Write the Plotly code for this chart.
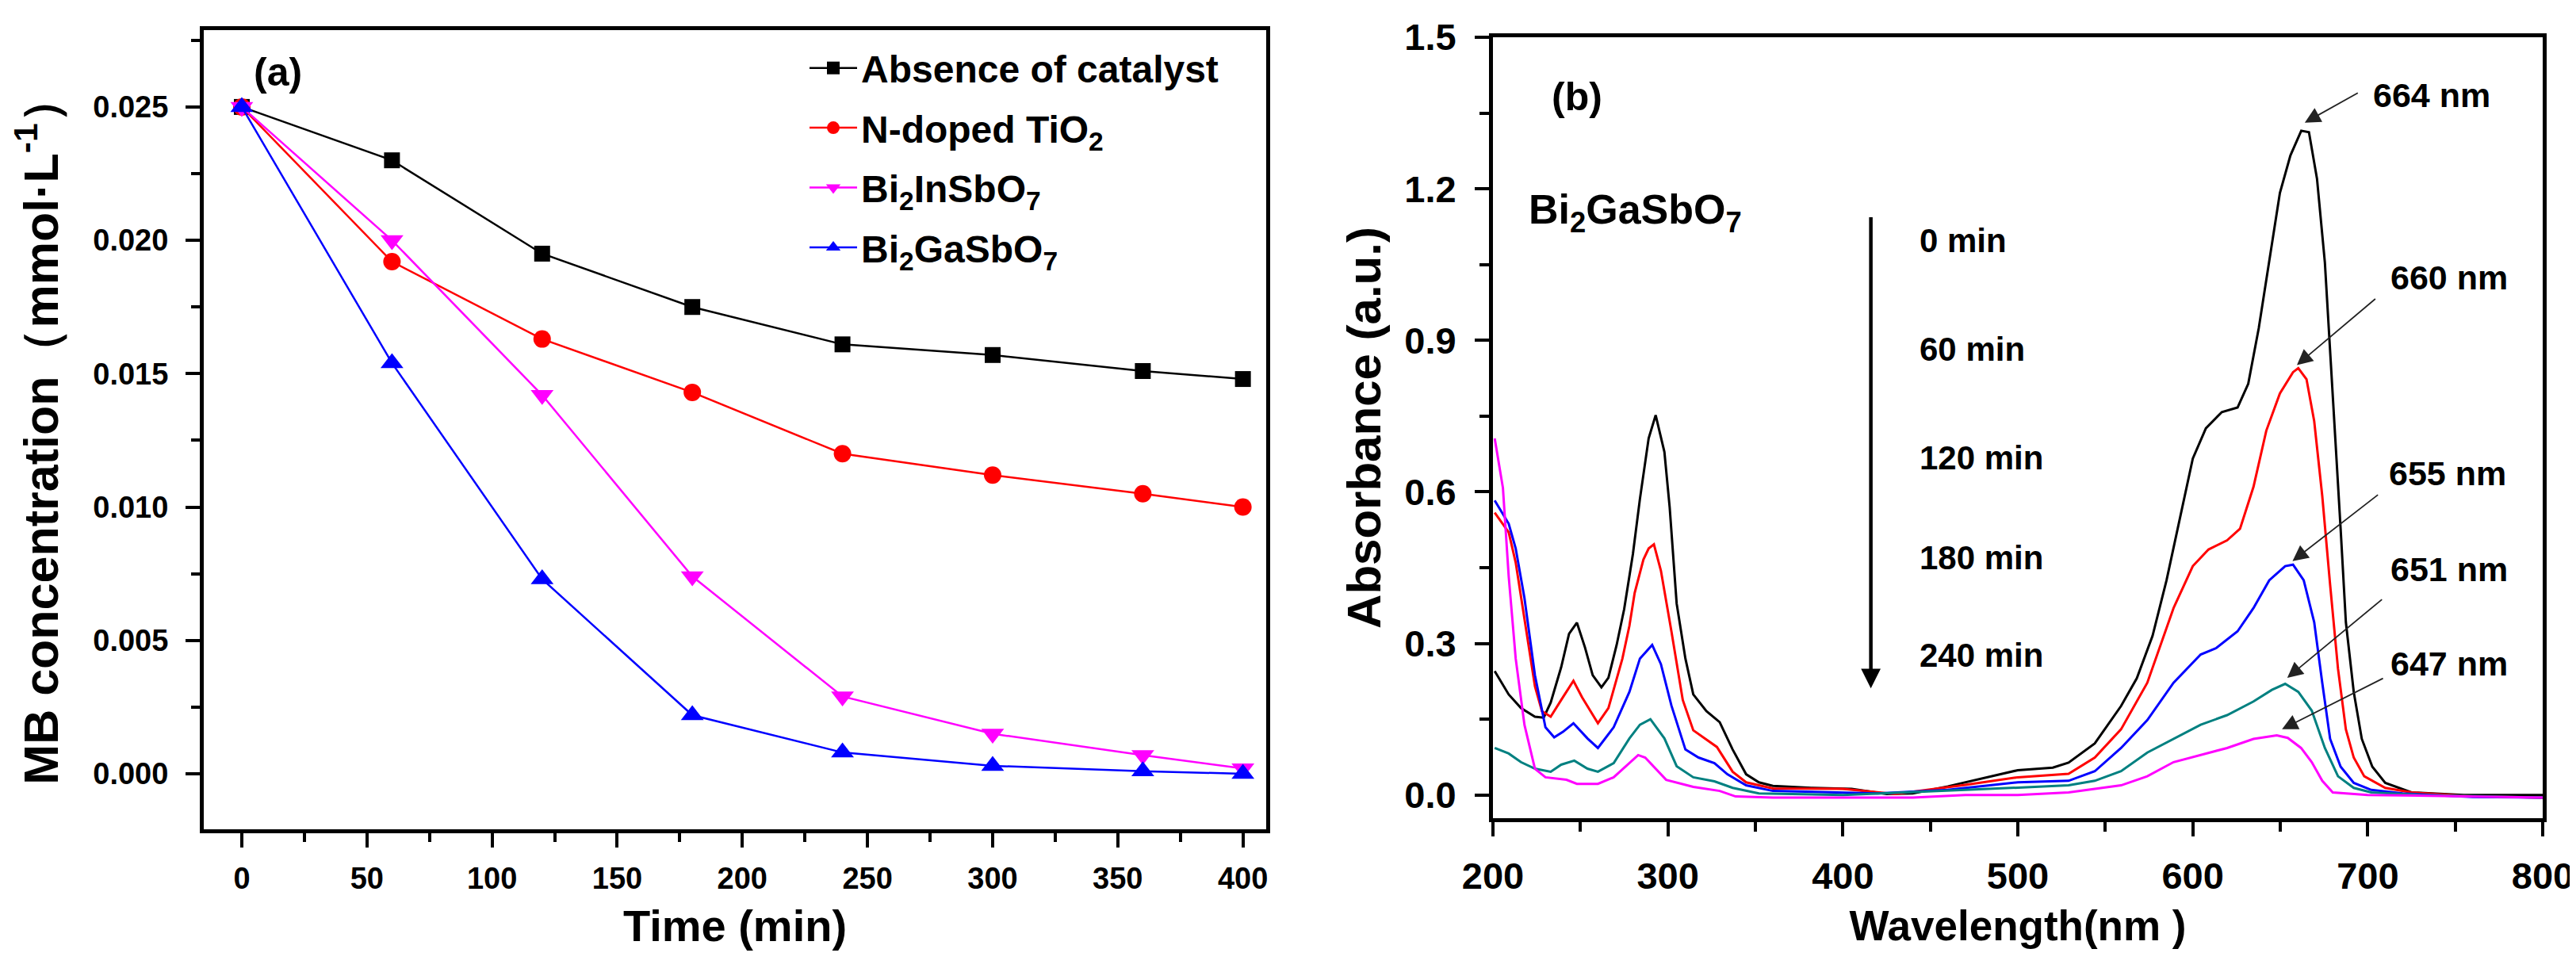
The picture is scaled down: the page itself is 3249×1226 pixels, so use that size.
import plotly.graph_objects as go

# ---------------- Panel (a) data ----------------
time_min = [0, 60, 120, 180, 240, 300, 360, 400]
absence = [0.0250, 0.0230, 0.0195, 0.0175, 0.0161, 0.0157, 0.0151, 0.0148]
n_tio2 = [0.0250, 0.0192, 0.0163, 0.0143, 0.0120, 0.0112, 0.0105, 0.0100]
bi2insbo7 = [0.0250, 0.0200, 0.0142, 0.0074, 0.0029, 0.0015, 0.0007, 0.0002]
bi2gasbo7 = [0.0250, 0.0154, 0.0073, 0.0022, 0.0008, 0.0003, 0.0001, -0.0000]

series_a_names = ["Absence of catalyst", "N-doped TiO<sub>2</sub>",
                  "Bi<sub>2</sub>InSbO<sub>7</sub>", "Bi<sub>2</sub>GaSbO<sub>7</sub>"]

# ---------------- Panel (b) data ----------------
wl_0 = [201, 209, 216, 224, 229, 233, 239, 243.5, 248, 252.6, 257, 262, 266, 270.7, 275, 280, 284, 289,
        293, 298, 301, 305, 310, 314.5, 322, 329.6, 337, 344.7, 352, 360, 382, 405, 425, 440, 460, 480,
        500, 520, 529, 544, 559, 568, 577, 585, 592, 600, 607.5, 616.6, 625.6, 631.7, 637.7, 643.7,
        649.8, 655.8, 662, 666.4, 671, 675.5, 678.5, 681.5, 684.5, 687.5, 692, 696.6, 702.6, 710, 725,
        755, 800]
abs_0 = [0.245, 0.199, 0.172, 0.155, 0.153, 0.183, 0.253, 0.319, 0.341, 0.292, 0.237, 0.213, 0.232,
         0.297, 0.368, 0.477, 0.586, 0.706, 0.752, 0.679, 0.570, 0.379, 0.270, 0.199, 0.166, 0.144,
         0.090, 0.041, 0.025, 0.018, 0.014, 0.012, 0.002, 0.003, 0.017, 0.033, 0.049, 0.054, 0.064,
         0.102, 0.176, 0.231, 0.315, 0.425, 0.536, 0.666, 0.726, 0.758, 0.767, 0.814, 0.924, 1.054,
         1.192, 1.266, 1.315, 1.312, 1.220, 1.054, 0.887, 0.703, 0.527, 0.342, 0.204, 0.111, 0.056,
         0.024, 0.005, 0.000, 0.000]

wl_60 = [201, 209, 213, 218, 224, 228, 233, 239, 246, 251, 260, 266, 274, 278, 281, 286, 289, 292, 296,
         302, 308.5, 314.5, 322, 328, 337, 344.7, 360, 400, 430, 470, 500, 520, 529, 544, 559, 574, 589,
         600, 609, 619.6, 627, 634.7, 642, 649.8, 657.3, 660.3, 665, 669.4, 674, 678.5, 683, 687.5,
         692, 698, 710, 725, 760, 800]
abs_60 = [0.559, 0.520, 0.460, 0.346, 0.215, 0.166, 0.155, 0.188, 0.226, 0.193, 0.142, 0.172, 0.270,
          0.335, 0.400, 0.466, 0.488, 0.496, 0.444, 0.324, 0.188, 0.128, 0.109, 0.095, 0.046, 0.025,
          0.013, 0.012, 0.002, 0.020, 0.035, 0.040, 0.042, 0.074, 0.130, 0.222, 0.370, 0.453, 0.486,
          0.504, 0.527, 0.610, 0.721, 0.795, 0.837, 0.845, 0.823, 0.740, 0.592, 0.416, 0.250, 0.130,
          0.074, 0.037, 0.014, 0.005, -0.003, -0.005]

wl_120 = [201, 209, 213, 218, 224, 230, 235, 240, 246, 254, 260, 269, 278, 284, 291, 296, 302, 310,
          317.5, 326.6, 334, 344.7, 360, 420, 460, 500, 529, 544, 559, 574, 589, 604.5, 613.5, 625.6,
          634.7, 643.7, 652.8, 657.3, 663.4, 669.4, 674, 678.5, 684.5, 692, 702, 720, 760, 800]
abs_120 = [0.583, 0.537, 0.488, 0.390, 0.237, 0.134, 0.114, 0.125, 0.142, 0.112, 0.093, 0.134, 0.204,
           0.270, 0.297, 0.259, 0.177, 0.090, 0.074, 0.063, 0.041, 0.019, 0.008, 0.003, 0.010, 0.025,
           0.028, 0.047, 0.093, 0.148, 0.222, 0.278, 0.291, 0.324, 0.370, 0.425, 0.453, 0.456, 0.425,
           0.342, 0.222, 0.111, 0.056, 0.024, 0.010, 0.003, -0.004, -0.005]

wl_180 = [201, 209, 216, 224, 233, 239, 246.5, 254, 260, 269, 278, 284, 290, 298, 305, 314.5, 326.6,
          337, 352, 400, 470, 500, 529, 544, 559, 574, 589, 604.5, 619.6, 634.7, 645.2, 652.8, 660.3,
          668, 675.5, 683, 692, 702, 730, 800]
abs_180 = [0.093, 0.082, 0.065, 0.052, 0.046, 0.060, 0.068, 0.052, 0.046, 0.063, 0.112, 0.139, 0.150,
           0.112, 0.057, 0.035, 0.027, 0.014, 0.003, 0.000, 0.010, 0.015, 0.019, 0.028, 0.047, 0.084,
           0.111, 0.139, 0.158, 0.185, 0.208, 0.220, 0.204, 0.167, 0.093, 0.037, 0.014, 0.005, 0.000,
           -0.005]

wl_240 = [201, 205.7, 209, 213, 218, 224, 230, 242, 248, 260, 269, 278, 283, 287, 293, 299, 314.5,
          329.6, 338.7, 360, 440, 470, 500, 529, 559, 574, 589, 604.5, 619.6, 634.7, 643.7, 648, 654.3,
          661.9, 668, 674, 680, 700, 800]
abs_240 = [0.706, 0.608, 0.433, 0.270, 0.139, 0.052, 0.035, 0.030, 0.022, 0.022, 0.035, 0.063, 0.079,
           0.074, 0.052, 0.030, 0.016, 0.008, -0.003, -0.005, -0.005, 0.000, 0.000, 0.005, 0.019, 0.037,
           0.065, 0.079, 0.093, 0.111, 0.116, 0.118, 0.113, 0.093, 0.065, 0.028, 0.005, 0.000, -0.005]

time_labels = ["0 min", "60 min", "120 min", "180 min", "240 min"]
time_label_y = [1.097, 0.883, 0.668, 0.469, 0.276]
peak_labels = ["664 nm", "660 nm", "655 nm", "651 nm", "647 nm"]
peak_label_xy = [(702, 1.386), (712, 1.025), (711, 0.637), (712, 0.447), (712, 0.260)]
peak_arrow_tail = [(695, 1.391), (705, 0.984), (706.5, 0.596), (708.8, 0.389), (709.4, 0.232)]
peak_arrow_head = [(664, 1.331), (659.5, 0.851), (657, 0.463), (654, 0.232), (651, 0.130)]

FONT = "Liberation Sans, Arial, Helvetica, sans-serif"
W, H = 3249, 1226

fig = go.Figure()

# ---------------- Panel (a) traces ----------------
series_a = [absence, n_tio2, bi2insbo7, bi2gasbo7]
colors_a = ["#000000", "#FF0000", "#FF00FF", "#0000FF"]
symbols_a = ["square", "circle", "triangle-down", "triangle-up"]
sizes_a = [20, 22, 25, 25]
for name, ys, c, s, sz in zip(series_a_names, series_a, colors_a, symbols_a, sizes_a):
    fig.add_trace(go.Scatter(
        x=time_min, y=ys, mode="lines+markers", name="<b>" + name + "</b>",
        line=dict(color=c, width=2.5),
        marker=dict(symbol=s, size=sz, color=c, line=dict(width=0)),
        xaxis="x", yaxis="y", legendgroup=name,
    ))

# ---------------- Panel (b) traces ----------------
spectra = [(wl_0, abs_0, "#000000", "0 min"), (wl_60, abs_60, "#FF0000", "60 min"),
           (wl_120, abs_120, "#0000FF", "120 min"), (wl_180, abs_180, "#008080", "180 min"),
           (wl_240, abs_240, "#FF00FF", "240 min")]
for wl, ab, c, nm in spectra:
    fig.add_trace(go.Scatter(
        x=wl, y=ab, mode="lines", name=nm, showlegend=False,
        line=dict(color=c, width=3), xaxis="x2", yaxis="y2",
    ))

# ---------------- Axes ----------------
axis_common = dict(
    showline=True, linecolor="black", linewidth=5, mirror=True,
    ticks="outside", ticklen=18, tickwidth=4, tickcolor="black",
    showgrid=False, zeroline=False, automargin=False,
)

fig.update_layout(
    width=W, height=H,
    margin=dict(l=0, r=0, t=0, b=0),
    paper_bgcolor="white", plot_bgcolor="white",
    font=dict(family=FONT, color="black"),
    xaxis=dict(
        domain=[249 / W, 1589 / W], range=[-15.2, 409.3], dtick=50, tick0=0,
        minor=dict(ticks="outside", ticklen=11, tickwidth=4, dtick=25, tickcolor="black"),
        tickfont=dict(size=38, weight="bold", family=FONT), ticklabelstandoff=6,
        title=dict(text="Time (min)", font=dict(size=56, weight="bold", family=FONT), standoff=22),
        anchor="y", **axis_common,
    ),
    yaxis=dict(
        domain=[1 - 1038 / H, 1 - 30 / H], range=[-0.00208, 0.02788], dtick=0.005, tick0=0,
        tickformat=".3f",
        minor=dict(ticks="outside", ticklen=11, tickwidth=4, dtick=0.0025, tickcolor="black"),
        tickfont=dict(size=38, weight="bold", family=FONT), ticklabelstandoff=14,
        title=dict(text="MB concentration（mmol·L<sup>-1</sup>）",
                   font=dict(size=61, weight="bold", family=FONT), standoff=38),
        anchor="x", **axis_common,
    ),
    xaxis2=dict(
        domain=[1875 / W, 3199 / W], range=[200, 800], dtick=100, tick0=0,
        minor=dict(ticks="outside", ticklen=12, tickwidth=4, dtick=50, tickcolor="black"),
        tickfont=dict(size=47, weight="bold", family=FONT), ticklabelstandoff=10,
        title=dict(text="Wavelength(nm )", font=dict(size=53, weight="bold", family=FONT), standoff=20),
        anchor="y2", **axis_common,
    ),
    yaxis2=dict(
        domain=[1 - 1024 / H, 1 - 39 / H], range=[-0.046, 1.5], dtick=0.3, tick0=0,
        tickformat=".1f",
        minor=dict(ticks="outside", ticklen=12, tickwidth=4, dtick=0.15, tickcolor="black"),
        tickfont=dict(size=47, weight="bold", family=FONT), ticklabelstandoff=14,
        title=dict(text="Absorbance (a.u.)", font=dict(size=60, weight="bold", family=FONT), standoff=12),
        anchor="x2", **axis_common,
    ),
    legend=dict(
        x=1008 / W, y=1 - 40 / H, xanchor="left", yanchor="top",
        bgcolor="rgba(0,0,0,0)", borderwidth=0,
        font=dict(size=48, family=FONT, color="black"),
        traceorder="grouped", tracegroupgap=10, itemwidth=60,
    ),
)

annotations = []
# Panel labels
annotations.append(dict(text="<b>(a)</b>", xref="paper", yref="paper", x=342 / W, y=1 - 83 / H,
                        xanchor="center", yanchor="middle", showarrow=False,
                        font=dict(size=50, family=FONT)))
annotations.append(dict(text="<b>(b)</b>", xref="paper", yref="paper", x=1981 / W, y=1 - 114 / H,
                        xanchor="center", yanchor="middle", showarrow=False,
                        font=dict(size=50, family=FONT)))
annotations.append(dict(text="<b>Bi<sub>2</sub>GaSbO<sub>7</sub></b>", xref="paper", yref="paper",
                        x=1918 / W, y=1 - 260 / H, xanchor="left", yanchor="middle", showarrow=False,
                        font=dict(size=52, family=FONT)))
# Big vertical arrow
annotations.append(dict(text="", xref="x2", yref="y2", axref="x2", ayref="y2",
                        x=416, y=0.211, ax=416, ay=1.146, showarrow=True,
                        arrowhead=2, arrowsize=1.1, arrowwidth=4.5, arrowcolor="black"))
# Time labels
for t, ty in zip(time_labels, time_label_y):
    annotations.append(dict(text="<b>" + t + "</b>", xref="x2", yref="y2", x=443, y=ty,
                            xanchor="left", yanchor="middle", showarrow=False,
                            font=dict(size=42, family=FONT)))
# Peak labels and arrows
for lab, (lx, ly), (tx, ty), (hx, hy) in zip(peak_labels, peak_label_xy, peak_arrow_tail, peak_arrow_head):
    annotations.append(dict(text="<b>" + lab + "</b>", xref="x2", yref="y2", x=lx, y=ly,
                            xanchor="left", yanchor="middle", showarrow=False,
                            font=dict(size=43, family=FONT)))
    annotations.append(dict(text="", xref="x2", yref="y2", axref="x2", ayref="y2",
                            x=hx, y=hy, ax=tx, ay=ty, showarrow=True,
                            arrowhead=2, arrowsize=2.2, arrowwidth=1.8, arrowcolor="#222222"))

fig.update_layout(annotations=annotations)

fig.write_html("out.html")
